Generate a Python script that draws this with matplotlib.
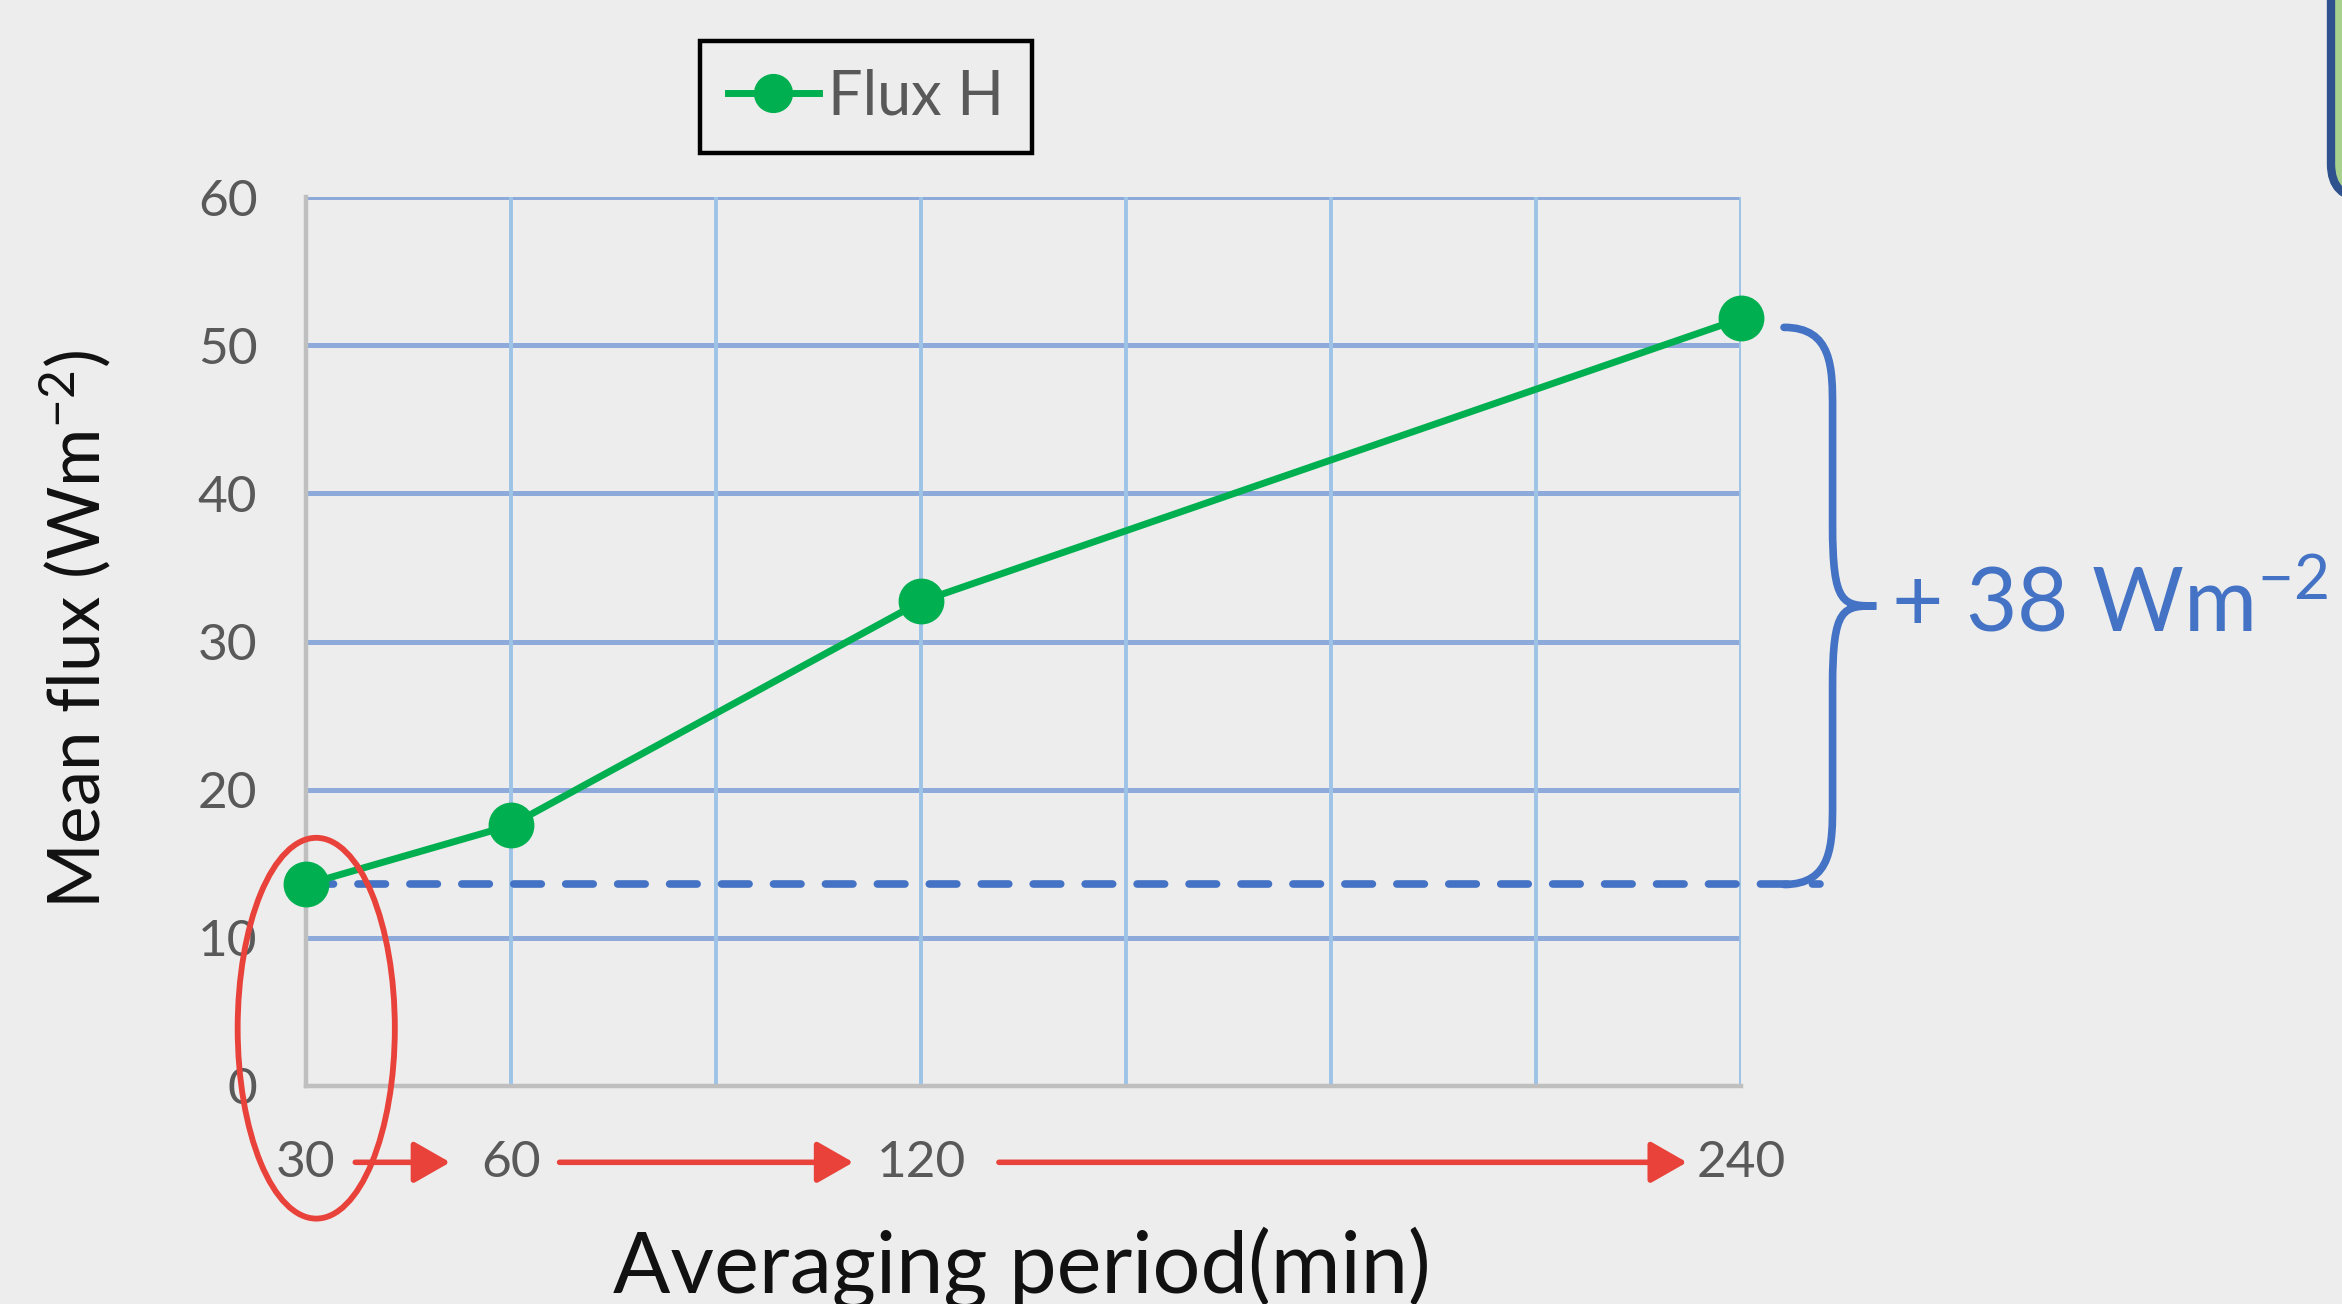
import matplotlib
matplotlib.use("Agg")
import matplotlib.pyplot as plt
from matplotlib.patches import Ellipse, FancyArrowPatch, FancyBboxPatch, PathPatch
from matplotlib.path import Path

# data
periods = [30, 60, 120, 240]          # averaging period (min)
flux_h = [13.6, 17.6, 32.7, 51.8]     # mean flux H (W m-2)
grid_x = [30, 60, 90, 120, 150, 180, 210, 240]
tick_labels = ["30", "60", "", "120", "", "", "", "240"]
y_ticks = [0, 10, 20, 30, 40, 50, 60]

plt.rcParams['font.family'] = ['Lato', 'DejaVu Sans']
plt.rcParams['mathtext.fontset'] = 'custom'
plt.rcParams['mathtext.rm'] = 'Lato'
plt.rcParams['mathtext.default'] = 'regular'

bg = '#ededed'
green = '#00b050'
blue = '#4472c4'
red = '#e8423a'
W, H = 2342, 1304

fig = plt.figure(figsize=(W / 100, H / 100), dpi=100, facecolor=bg)
ax = fig.add_axes([306 / W, 1 - 1086 / H, 1435 / W, 889 / H], facecolor=bg)

# grid
for y in y_ticks[1:]:
    ax.axhline(y, color='#8eaadb', lw=3.6, zorder=1)
for x in grid_x[1:]:
    ax.axvline(x, color='#9dc3e6', lw=2.8, zorder=1)

ax.set_xlim(30, 240)
ax.set_ylim(0, 60)
ax.set_xticks(grid_x)
ax.set_xticklabels(tick_labels)
ax.set_yticks(y_ticks)
ax.tick_params(length=0, labelsize=37, labelcolor='#595959')
ax.tick_params(axis='y', pad=35)
ax.tick_params(axis='x', pad=39)
for s in ['top', 'right']:
    ax.spines[s].set_visible(False)
for s in ['left', 'bottom']:
    ax.spines[s].set_color('#bfbfbf')
    ax.spines[s].set_linewidth(3.2)

# baseline dashed line and the series
ax.plot([periods[0], 251.5], [flux_h[0], flux_h[0]], color=blue, lw=5.5,
        ls=(0, (3.6, 3.2)), dash_capstyle='round', zorder=2, clip_on=False)
ax.plot(periods, flux_h, color=green, lw=5, marker='o', ms=32,
        label='Flux H', zorder=3, clip_on=False)

# curly brace between first and last value
top, bot = flux_h[-1] - 0.6, flux_h[0]
mid = (top + bot) / 2
x0, x1, x2 = 246.3, 253.4, 259.8
r = 5.5
verts = [(x0, top), (x1, top), (x1, top - r / 2), (x1, top - r),
         (x1, mid + r),
         (x1, mid), (x1 + 1.5, mid), (x2, mid),
         (x1 + 1.5, mid), (x1, mid), (x1, mid - r),
         (x1, bot + r),
         (x1, bot + r / 2), (x1, bot), (x0, bot)]
codes = [Path.MOVETO, Path.CURVE4, Path.CURVE4, Path.CURVE4,
         Path.LINETO,
         Path.CURVE4, Path.CURVE4, Path.CURVE4,
         Path.CURVE4, Path.CURVE4, Path.CURVE4,
         Path.LINETO,
         Path.CURVE4, Path.CURVE4, Path.CURVE4]
ax.add_patch(PathPatch(Path(verts, codes), fill=False, ec=blue, lw=5.5,
                       capstyle='round', clip_on=False, zorder=2))
ax.text(x2 + 2.1, mid, '+ %d Wm$^{-2}$' % round(flux_h[-1] - flux_h[0]),
        color=blue, fontsize=64, va='center', ha='left', clip_on=False)

# red highlight on the 30 min period
ax.add_patch(Ellipse((31.5, 3.9), 23, 25.7, fill=False, ec=red, lw=4.2,
                     clip_on=False, zorder=4))
for a, b in [(36.8, 51.5), (66.7, 110.5), (131.0, 232.5)]:
    ax.add_patch(FancyArrowPatch((a, -5.15), (b, -5.15),
                                 arrowstyle='-|>,head_length=1.4,head_width=0.8',
                                 mutation_scale=16, color=red, lw=4,
                                 clip_on=False))

# axis titles (the x title is cut at the bottom edge, as in the original slide)
fig.text(1022 / W, 1 - 1293 / H, 'Averaging period(min)', fontsize=61,
         ha='center', va='baseline', color='#111111')
fig.text(75 / W, 1 - 629 / H, 'Mean flux (Wm$^{-2}$)', fontsize=51,
         rotation=90, ha='center', va='center', color='#111111')

leg = ax.legend(loc='center', bbox_to_anchor=(866 / W, 1 - 97 / H),
                bbox_transform=fig.transFigure, fontsize=44, fancybox=False,
                edgecolor='black', facecolor=bg, framealpha=1,
                handlelength=1.5, handletextpad=0.15, borderpad=0.45,
                markerscale=0.85)
leg.get_frame().set_linewidth(3.2)
for t in leg.get_texts():
    t.set_color('#595959')

# piece of the neighbouring box at the top right corner
fig.patches.append(FancyBboxPatch((2331, H - 198), 200, 400,
                                  boxstyle='round,pad=0,rounding_size=34',
                                  transform=None, fc='#a9d18e', ec='#2f528f',
                                  lw=6))

fig.savefig('out.png', dpi=100, facecolor=bg)
